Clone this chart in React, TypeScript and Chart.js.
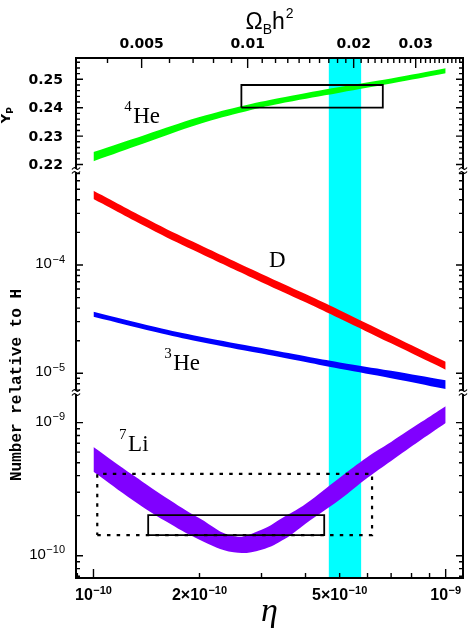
import React, { useEffect, useRef } from "react";
import { Chart, registerables } from "chart.js";

Chart.register(...registerables);

// ---- axes -------------------------------------------------------------
const ETA_MIN = 8.92e-11;
const ETA_MAX = 1.12e-9;
const ETA_PER_OMEGA = 2.74e-8; // eta = 2.74e-8 * Omega_B h^2

// ---- 4He mass fraction band (Yp) -------------------------------------
const ETA_YP = [1e-10, 1.4e-10, 2e-10, 2.7e-10, 3.5e-10, 5e-10, 7e-10, 1e-9];
const YP_HIGH = [0.2244, 0.2304, 0.2367, 0.2409, 0.2438, 0.2473, 0.2503, 0.2539];
const YP_LOW = [0.2212, 0.2276, 0.2343, 0.2387, 0.2418, 0.2453, 0.2485, 0.2521];

// ---- D/H and 3He/H bands ---------------------------------------------
const ETA_DHE = [1e-10, 1.5e-10, 2e-10, 3e-10, 4e-10, 5e-10, 7e-10, 1e-9];
const D_HIGH = [4.84e-4, 2.42e-4, 1.54e-4, 8.28e-5, 5.4e-5, 3.83e-5, 2.25e-5, 1.28e-5];
const D_LOW = [4.06e-4, 2.03e-4, 1.29e-4, 6.95e-5, 4.53e-5, 3.21e-5, 1.89e-5, 1.08e-5];
const HE3_HIGH = [3.71e-5, 2.68e-5, 2.19e-5, 1.71e-5, 1.435e-5, 1.26e-5, 1.054e-5, 8.61e-6];
const HE3_LOW = [3.33e-5, 2.41e-5, 1.96e-5, 1.52e-5, 1.27e-5, 1.1e-5, 9.02e-6, 7.16e-6];

// ---- 7Li/H band -------------------------------------------------------
const ETA_LI = [1e-10, 1.3e-10, 1.6e-10, 2e-10, 2.5e-10, 3e-10, 3.5e-10, 4e-10, 5e-10, 6e-10, 7e-10, 8.5e-10, 1e-9];
const LI_HIGH = [6.57e-10, 4.0e-10, 2.75e-10, 1.91e-10, 1.4e-10, 1.57e-10, 1.98e-10, 2.45e-10, 3.86e-10, 5.53e-10, 7.16e-10, 1.005e-9, 1.33e-9];
const LI_LOW = [4.27e-10, 2.59e-10, 1.82e-10, 1.32e-10, 1.06e-10, 1.11e-10, 1.34e-10, 1.74e-10, 2.63e-10, 3.85e-10, 5.16e-10, 7.41e-10, 9.95e-10];

// ---- observational boxes ---------------------------------------------
const YP_BOX_ETA = [2.63e-10, 6.63e-10];
const YP_BOX_Y = [0.24, 0.248];
const LI_BOX_ETA = [1.43e-10, 4.52e-10];
const LI_BOX_Y = [1.43e-10, 2.02e-10];
const LI_DOT_ETA = [1.025e-10, 6.18e-10];
const LI_DOT_Y = [1.43e-10, 4.12e-10];

// ---- vertical band in Omega_B h^2 ------------------------------------
const BAND_OMEGA = [0.017, 0.021];

// ---- panel ranges -----------------------------------------------------
const YP_RANGE = [0.2179, 0.2575];
const DH_RANGE = [6.65e-6, 7.46e-4];
const LI_RANGE = [6.8e-11, 1.685e-9];
const PANEL_WEIGHTS = [112.5, 222, 185.5];

// ---- tick labels ------------------------------------------------------
const OMEGA_LABEL_VALUES = [0.005, 0.01, 0.02, 0.03];
const OMEGA_LABELS = ["0.005", "0.01", "0.02", "0.03"];
const YP_LABEL_VALUES = [0.22, 0.23, 0.24, 0.25];
const YP_LABELS = ["0.22", "0.23", "0.24", "0.25"];
const DH_LABEL_VALUES = [1e-5, 1e-4];
const DH_LABEL_EXP = ["\u22125", "\u22124"];
const LI_LABEL_VALUES = [1e-10, 1e-9];
const LI_LABEL_EXP = ["\u221210", "\u22129"];
const ETA_LABEL_VALUES = [1e-10, 2e-10, 5e-10, 1e-9];
const ETA_LABEL_MANT = ["10", "2\u00d710", "5\u00d710", "10"];
const ETA_LABEL_EXP = ["\u221210", "\u221210", "\u221210", "\u22129"];

// ---- species labels (data coordinates of text start / baseline) ------
const SPECIES = [
  { sup: "4", text: "He", eta: 1.296e-10, value: 0.2345, axis: "yHe" },
  { sup: "", text: "D", eta: 3.152e-10, value: 9.58e-5, axis: "yD" },
  { sup: "3", text: "He", eta: 1.684e-10, value: 1.072e-5, axis: "yD" },
  { sup: "7", text: "Li", eta: 1.254e-10, value: 6.13e-10, axis: "yLi" },
];

const COLORS = { he4: "#00ff00", d: "#ff0000", he3: "#0000ff", li: "#8000ff", band: "#00ffff" };

function band(eta: number[], lo: number[], hi: number[], color: string, yAxisID: string) {
  const common = {
    yAxisID,
    borderColor: "rgba(0,0,0,0)",
    borderWidth: 0.01,
    backgroundColor: color,
    pointRadius: 0,
    tension: 0.4,
    order: 1,
  };
  return [
    { ...common, data: eta.map((x, i) => ({ x, y: lo[i] })), fill: false },
    { ...common, data: eta.map((x, i) => ({ x, y: hi[i] })), fill: "-1" },
  ];
}

function rect(ex: number[], yy: number[], yAxisID: string, dotted: boolean) {
  return {
    yAxisID,
    data: [
      { x: ex[0], y: yy[0] },
      { x: ex[1], y: yy[0] },
      { x: ex[1], y: yy[1] },
      { x: ex[0], y: yy[1] },
      { x: ex[0], y: yy[0] },
    ],
    borderColor: "#000",
    borderWidth: dotted ? 2.2 : 1.8,
    borderDash: dotted ? [3.5, 6.2] : [],
    pointRadius: 0,
    fill: false,
    tension: 0,
    order: 0,
  };
}

function drawPow(
  ctx: CanvasRenderingContext2D,
  mant: string,
  exp: string,
  x: number,
  baseline: number,
  mainFont: string,
  supFont: string,
  raise: number,
  align: "left" | "right" | "center"
) {
  ctx.font = mainFont;
  const w1 = ctx.measureText(mant).width;
  ctx.font = supFont;
  const w2 = ctx.measureText(exp).width;
  const total = w1 + w2 + 0.5;
  const start = align === "right" ? x - total : align === "center" ? x - total / 2 : x;
  ctx.textAlign = "left";
  ctx.textBaseline = "alphabetic";
  ctx.font = mainFont;
  ctx.fillText(mant, start, baseline);
  ctx.font = supFont;
  ctx.fillText(exp, start + w1 + 0.5, baseline - raise);
}

function logValues(min: number, max: number) {
  const out: { v: number; major: boolean }[] = [];
  for (let d = Math.floor(Math.log10(min)); d <= Math.ceil(Math.log10(max)); d++) {
    for (let m = 1; m <= 9; m++) {
      const v = m * Math.pow(10, d);
      if (v >= min && v <= max) out.push({ v, major: m === 1 });
    }
  }
  return out;
}

const decorPlugin = {
  id: "decor",
  beforeDatasetsDraw(chart: any) {
    const { ctx, chartArea: a } = chart;
    const x2 = chart.scales.x2;
    const l = x2.getPixelForValue(BAND_OMEGA[0]);
    const r = x2.getPixelForValue(BAND_OMEGA[1]);
    ctx.save();
    ctx.fillStyle = COLORS.band;
    ctx.fillRect(l, a.top, r - l, a.bottom - a.top);
    ctx.restore();
  },
  afterDraw(chart: any) {
    const { ctx, chartArea: a } = chart;
    const sx = chart.scales.x;
    const sx2 = chart.scales.x2;
    const sHe = chart.scales.yHe;
    const sD = chart.scales.yD;
    const sLi = chart.scales.yLi;
    ctx.save();
    ctx.strokeStyle = "#000";
    ctx.fillStyle = "#000";

    // ---- tick marks ----
    ctx.lineWidth = 1.4;
    ctx.beginPath();
    for (let k = 4; k <= 40; k++) {
      const v = k / 1000;
      const px = sx2.getPixelForValue(v);
      if (px < a.left + 1 || px > a.right - 1) continue;
      const major = OMEGA_LABEL_VALUES.some((m) => Math.abs(m - v) < 1e-9);
      ctx.moveTo(px, a.top);
      ctx.lineTo(px, a.top + (major ? 10 : 5));
    }
    for (const t of logValues(ETA_MIN, ETA_MAX)) {
      const px = sx.getPixelForValue(t.v);
      if (px < a.left + 1 || px > a.right - 1) continue;
      ctx.moveTo(px, a.bottom);
      ctx.lineTo(px, a.bottom - (t.major ? 9 : 5));
    }
    const yTick = (py: number, len: number) => {
      ctx.moveTo(a.left, py);
      ctx.lineTo(a.left + len, py);
      ctx.moveTo(a.right, py);
      ctx.lineTo(a.right - len, py);
    };
    for (let k = 218; k <= 256; k += 2) {
      const py = sHe.getPixelForValue(k / 1000);
      if (py < sHe.top + 1 || py > sHe.bottom - 1) continue;
      yTick(py, k % 10 === 0 ? 7 : 4);
    }
    for (const t of logValues(DH_RANGE[0], DH_RANGE[1])) {
      const py = sD.getPixelForValue(t.v);
      if (py < sD.top + 1 || py > sD.bottom - 1) continue;
      yTick(py, t.major ? 7 : 4);
    }
    for (const t of logValues(LI_RANGE[0], LI_RANGE[1])) {
      const py = sLi.getPixelForValue(t.v);
      if (py < sLi.top + 1 || py > sLi.bottom - 1) continue;
      yTick(py, t.major ? 7 : 4);
    }
    ctx.stroke();

    // ---- frame ----
    ctx.lineWidth = 2;
    ctx.strokeRect(a.left, a.top, a.right - a.left, a.bottom - a.top);

    // ---- axis break marks ----
    for (const yb of [sHe.bottom, sD.bottom]) {
      for (const xb of [a.left, a.right]) {
        ctx.fillStyle = "#fff";
        ctx.fillRect(xb - 1.5, yb - 1.6, 3, 3.2);
        ctx.lineWidth = 1.2;
        ctx.beginPath();
        for (const dy of [-2, 2]) {
          const y0 = yb + dy;
          ctx.moveTo(xb - 4, y0 + 1);
          ctx.quadraticCurveTo(xb - 2, y0 - 2, xb, y0);
          ctx.quadraticCurveTo(xb + 2, y0 + 2, xb + 4, y0 - 1);
        }
        ctx.stroke();
      }
    }
    ctx.fillStyle = "#000";

    // ---- tick labels ----
    const boldTick = "bold 14px 'DejaVu Sans'";
    ctx.font = boldTick;
    ctx.textAlign = "center";
    ctx.textBaseline = "alphabetic";
    OMEGA_LABEL_VALUES.forEach((v, i) => {
      ctx.fillText(OMEGA_LABELS[i], sx2.getPixelForValue(v), a.top - 10);
    });
    ctx.textAlign = "right";
    ctx.textBaseline = "middle";
    YP_LABEL_VALUES.forEach((v, i) => {
      ctx.fillText(YP_LABELS[i], a.left - 13, sHe.getPixelForValue(v) + 1);
    });
    DH_LABEL_VALUES.forEach((v, i) => {
      drawPow(ctx, "10", DH_LABEL_EXP[i], a.left - 11, sD.getPixelForValue(v) + 3,
        "15px 'Liberation Sans'", "11px 'Liberation Sans'", 5.5, "right");
    });
    LI_LABEL_VALUES.forEach((v, i) => {
      drawPow(ctx, "10", LI_LABEL_EXP[i], a.left - 11, sLi.getPixelForValue(v) + 3,
        "15px 'Liberation Sans'", "11px 'Liberation Sans'", 5.5, "right");
    });
    ETA_LABEL_VALUES.forEach((v, i) => {
      drawPow(ctx, ETA_LABEL_MANT[i], ETA_LABEL_EXP[i], sx.getPixelForValue(v), a.bottom + 22,
        "bold 16px 'Liberation Sans'", "bold 11px 'Liberation Sans'", 6.5, "center");
    });

    // ---- axis titles ----
    const cx = (a.left + a.right) / 2;
    ctx.textAlign = "center";
    ctx.textBaseline = "alphabetic";
    ctx.font = "italic 34px 'Liberation Serif'";
    ctx.fillText("\u03b7", cx, a.bottom + 43);

    // Omega_B h^2
    {
      const big = "23px 'Liberation Sans'";
      const small = "14px 'Liberation Sans'";
      ctx.font = big;
      const wO = ctx.measureText("\u03a9").width;
      const wh = ctx.measureText("h").width;
      ctx.font = small;
      const wB = ctx.measureText("B").width;
      const w2 = ctx.measureText("2").width;
      const total = wO + wB + wh + w2 + 1;
      let x0 = cx - total / 2;
      const base = a.top - 29;
      ctx.textAlign = "left";
      ctx.font = big;
      ctx.fillText("\u03a9", x0, base);
      x0 += wO;
      ctx.font = small;
      ctx.fillText("B", x0, base + 5);
      x0 += wB;
      ctx.font = big;
      ctx.fillText("h", x0, base);
      x0 += wh + 1;
      ctx.font = small;
      ctx.fillText("2", x0, base - 11);
    }

    // Y_P (rotated)
    {
      ctx.save();
      ctx.translate(7, (sHe.top + sHe.bottom) / 2 + 1);
      ctx.rotate(-Math.PI / 2);
      const f1 = "bold 13px 'DejaVu Sans'";
      const f2 = "bold 9px 'DejaVu Sans'";
      ctx.font = f1;
      const wY = ctx.measureText("Y").width;
      ctx.font = f2;
      const wP = ctx.measureText("P").width;
      const start = -(wY + wP) / 2;
      ctx.textAlign = "left";
      ctx.textBaseline = "alphabetic";
      ctx.font = f1;
      ctx.fillText("Y", start, 3);
      ctx.font = f2;
      ctx.fillText("P", start + wY, 6);
      ctx.restore();
    }

    // Number relative to H (rotated)
    {
      ctx.save();
      ctx.translate(16.5, 385);
      ctx.rotate(-Math.PI / 2);
      ctx.textAlign = "center";
      ctx.textBaseline = "middle";
      ctx.font = "bold 16px 'Liberation Mono'";
      ctx.fillText("Number relative to H", 0, 0);
      ctx.restore();
    }

    // ---- species labels ----
    const mainF = "23px 'Liberation Serif'";
    const supF = "15px 'Liberation Serif'";
    for (const s of SPECIES) {
      const px = sx.getPixelForValue(s.eta);
      const py = chart.scales[s.axis].getPixelForValue(s.value);
      ctx.textBaseline = "alphabetic";
      ctx.font = mainF;
      ctx.textAlign = "left";
      ctx.fillText(s.text, px, py);
      if (s.sup) {
        ctx.font = supF;
        ctx.textAlign = "right";
        ctx.fillText(s.sup, px - 1.5, py - 12);
      }
    }
    ctx.restore();
  },
};

export default function App() {
  const ref = useRef<HTMLCanvasElement>(null);
  useEffect(() => {
    const canvas = ref.current;
    if (!canvas) return;
    const datasets: any[] = [
      rect(YP_BOX_ETA, YP_BOX_Y, "yHe", false),
      rect(LI_BOX_ETA, LI_BOX_Y, "yLi", false),
      rect(LI_DOT_ETA, LI_DOT_Y, "yLi", true),
      ...band(ETA_YP, YP_LOW, YP_HIGH, COLORS.he4, "yHe"),
      ...band(ETA_DHE, D_LOW, D_HIGH, COLORS.d, "yD"),
      ...band(ETA_DHE, HE3_LOW, HE3_HIGH, COLORS.he3, "yD"),
      ...band(ETA_LI, LI_LOW, LI_HIGH, COLORS.li, "yLi"),
    ];
    const hidden = { display: false, bounds: "data" as const };
    const chart = new Chart(canvas, {
      type: "line",
      data: { datasets },
      options: {
        animation: false,
        responsive: false,
        devicePixelRatio: 1,
        events: [],
        layout: { padding: { left: 76, right: 6, top: 58, bottom: 56 } },
        plugins: { legend: { display: false }, tooltip: { enabled: false } },
        scales: {
          x: { ...hidden, type: "logarithmic", position: "bottom", min: ETA_MIN, max: ETA_MAX },
          x2: {
            ...hidden,
            type: "logarithmic",
            position: "top",
            min: ETA_MIN / ETA_PER_OMEGA,
            max: ETA_MAX / ETA_PER_OMEGA,
          },
          yHe: {
            ...hidden,
            type: "linear",
            position: "left",
            stack: "panels",
            stackWeight: PANEL_WEIGHTS[0],
            weight: 3,
            min: YP_RANGE[0],
            max: YP_RANGE[1],
          },
          yD: {
            ...hidden,
            type: "logarithmic",
            position: "left",
            stack: "panels",
            stackWeight: PANEL_WEIGHTS[1],
            weight: 2,
            min: DH_RANGE[0],
            max: DH_RANGE[1],
          },
          yLi: {
            ...hidden,
            type: "logarithmic",
            position: "left",
            stack: "panels",
            stackWeight: PANEL_WEIGHTS[2],
            weight: 1,
            min: LI_RANGE[0],
            max: LI_RANGE[1],
          },
        } as any,
      },
      plugins: [decorPlugin],
    });
    return () => chart.destroy();
  }, []);
  return (
    <div style={{ position: "absolute", left: 0, top: 0, width: 469, height: 634, background: "#fff" }}>
      <canvas ref={ref} width={469} height={634} style={{ display: "block", width: 469, height: 634 }} />
    </div>
  );
}
